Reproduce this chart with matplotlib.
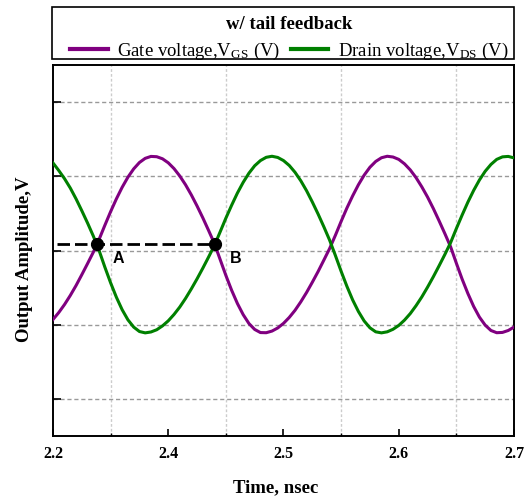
import matplotlib
matplotlib.use("Agg")
import matplotlib.pyplot as plt
from matplotlib.ticker import FixedLocator, MultipleLocator
from matplotlib.patches import Rectangle

plt.rcParams['font.family'] = ['Liberation Serif', 'DejaVu Serif']
plt.rcParams['mathtext.fontset'] = 'stix'

# ---- data ----
time_ns = [2.300, 2.305, 2.310, 2.315, 2.320, 2.325, 2.330, 2.335, 2.340, 2.345,
           2.350, 2.355, 2.360, 2.365, 2.370, 2.375, 2.380, 2.385, 2.390, 2.395,
           2.400, 2.405, 2.410, 2.415, 2.420, 2.425, 2.430, 2.435, 2.440, 2.445,
           2.450, 2.455, 2.460, 2.465, 2.470, 2.475, 2.480, 2.485, 2.490, 2.495,
           2.500, 2.505, 2.510, 2.515, 2.520, 2.525, 2.530, 2.535, 2.540, 2.545,
           2.550, 2.555, 2.560, 2.565, 2.570, 2.575, 2.580, 2.585, 2.590, 2.595,
           2.600, 2.605, 2.610, 2.615, 2.620, 2.625, 2.630, 2.635, 2.640, 2.645,
           2.650, 2.655, 2.660, 2.665, 2.670, 2.675, 2.680, 2.685, 2.690, 2.695,
           2.700]
gate_v = [0.785, 0.832, 0.886, 0.947, 1.014, 1.087, 1.162, 1.239, 1.325, 1.420,
          1.512, 1.598, 1.676, 1.744, 1.800, 1.843, 1.871, 1.884, 1.882, 1.868,
          1.841, 1.802, 1.752, 1.693, 1.625, 1.550, 1.470, 1.385, 1.298, 1.190,
          1.082, 0.982, 0.893, 0.818, 0.758, 0.718, 0.697, 0.696, 0.707, 0.728,
          0.759, 0.799, 0.847, 0.904, 0.967, 1.036, 1.108, 1.185, 1.263, 1.352,
          1.446, 1.536, 1.618, 1.693, 1.758, 1.811, 1.850, 1.875, 1.885, 1.880,
          1.864, 1.834, 1.793, 1.741, 1.679, 1.610, 1.533, 1.450, 1.364, 1.275,
          1.164, 1.057, 0.960, 0.873, 0.801, 0.747, 0.711, 0.696, 0.698, 0.711,
          0.734]
drain_v = [1.840, 1.789, 1.734, 1.671, 1.598, 1.518, 1.435, 1.347, 1.250, 1.138,
           1.032, 0.935, 0.851, 0.783, 0.734, 0.704, 0.695, 0.701, 0.716, 0.742,
           0.776, 0.819, 0.869, 0.927, 0.991, 1.059, 1.131, 1.206, 1.283, 1.375,
           1.468, 1.555, 1.637, 1.709, 1.771, 1.821, 1.856, 1.878, 1.885, 1.877,
           1.856, 1.823, 1.777, 1.720, 1.653, 1.577, 1.496, 1.410, 1.320, 1.217,
           1.110, 1.009, 0.917, 0.839, 0.775, 0.729, 0.702, 0.695, 0.702, 0.719,
           0.745, 0.781, 0.825, 0.878, 0.937, 1.003, 1.073, 1.147, 1.223, 1.303,
           1.398, 1.489, 1.576, 1.655, 1.725, 1.784, 1.830, 1.864, 1.881, 1.884,
           1.874]

point_names = ['A', 'B']
point_t = [2.3382, 2.4405]
point_v = [1.292, 1.292]
dash_start_t = 2.3033

xtick_pos = [2.3, 2.4, 2.5, 2.6, 2.7]
xtick_labels = ['2.2', '2.4', '2.5', '2.6', '2.7']
ytick_pos = [0.25, 0.75, 1.25, 1.75, 2.25]

legend_title = 'w/ tail feedback'
gate_label = r'Gate voltage,V$_\mathregular{GS}$ (V)'
drain_label = r'Drain voltage,V$_\mathregular{DS}$ (V)'

# ---- figure ----
W, H = 532, 497
fig = plt.figure(figsize=(W/100, H/100), dpi=100)
ax = fig.add_axes([53/W, 1-436/H, 461/W, 371/H])

ax.set_xlim(2.3, 2.7)
ax.set_ylim(0, 2.5)

ax.plot(time_ns, gate_v, color='#800080', lw=2.2, label=gate_label, zorder=3,
        solid_joinstyle='round')
ax.plot(time_ns, drain_v, color='#008000', lw=2.2, label=drain_label, zorder=3,
        solid_joinstyle='round')

ax.plot([dash_start_t, point_t[1]], [point_v[0], point_v[1]], color='black', lw=2.0,
        linestyle=(0, (4.5, 1.8)), zorder=4)
ax.plot(point_t, point_v, 'o', color='black', markersize=8.5, zorder=5)
for name, t, v in zip(point_names, point_t, point_v):
    ax.annotate(name, (t, v), xytext=(15, -10), textcoords='offset points',
                ha='center', va='center', fontsize=11.5, fontweight='bold',
                family=['Liberation Sans', 'DejaVu Sans'], zorder=6)

# ticks & grid
ax.xaxis.set_major_locator(FixedLocator(xtick_pos))
ax.set_xticklabels(xtick_labels, fontsize=11.5, fontweight='bold')
ax.xaxis.set_minor_locator(MultipleLocator(0.05))
ax.yaxis.set_major_locator(FixedLocator(ytick_pos))
ax.set_yticklabels([])
ax.tick_params(axis='x', which='major', direction='in', length=5, width=1.2, pad=7.5)
ax.tick_params(axis='x', which='minor', direction='in', length=2.5, width=1.0)
ax.tick_params(axis='y', which='major', direction='in', length=6, width=1.2)

ax.grid(axis='y', which='major', color='#999999', linestyle=(0, (3, 2)), lw=1.0)
ax.grid(axis='x', which='minor', color='#cccccc', linestyle=(0, (2, 1.5)), lw=1.0)
ax.set_axisbelow(True)

for s in ax.spines.values():
    s.set_linewidth(1.4)

ax.set_xlabel('Time, nsec', fontsize=13.5, fontweight='bold')
ax.xaxis.set_label_coords((275.3-53)/461, (436-487.6)/371)
ax.xaxis.label.set_va('center')
ax.set_ylabel('Output Amplitude,V', fontsize=13.5, fontweight='bold')
ax.yaxis.set_label_coords((25-53)/461, (436-259)/371)
ax.yaxis.label.set_va('center')

# legend box above the axes
fig.add_artist(Rectangle((52.4/W, 1-59.2/H), (514-52.4)/W, (59.2-7.4)/H,
                         transform=fig.transFigure, facecolor='white',
                         edgecolor='black', lw=1.2, zorder=-1))
leg = ax.legend(loc='lower left',
                bbox_to_anchor=((66.25-53)/461, (436-65.8)/371, (512.75-66.25)/461, 0.1),
                mode='expand', ncol=2, borderaxespad=0, fontsize=13.5,
                title=legend_title,
                title_fontproperties={'weight': 'bold', 'size': 13.5},
                handlelength=2.0, handletextpad=0.53, borderpad=0.2,
                labelspacing=0.4, frameon=False)
for h in leg.legend_handles:
    h.set_linewidth(3)

fig.savefig('out.png', dpi=100)
